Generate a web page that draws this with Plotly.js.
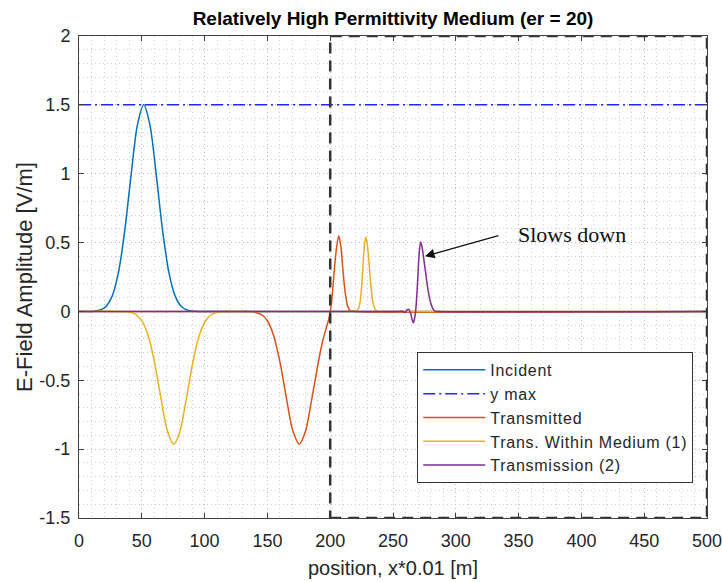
<!DOCTYPE html>
<html>
<head>
<meta charset="utf-8">
<script src="https://cdn.plot.ly/plotly-3.0.1.min.js"></script>
<style>html,body{margin:0;padding:0;background:#fff;}#chart{width:722px;height:582px;}
.legendtext{letter-spacing:0.75px;}</style>
</head>
<body>
<div id="chart"></div>
<script>
// ---- data ----
var incX = [0, 10, 15, 18.5, 21.5, 26.5, 31.5, 36.5, 41.5, 46.5, 51.5, 56.5, 61.5, 66.5, 71.5, 76.5, 81.5, 86.5, 90, 95, 500];
var incY = [0, 0, 0.006, 0.017, 0.036, 0.113, 0.287, 0.592, 0.992, 1.353, 1.5, 1.353, 0.992, 0.592, 0.287, 0.113, 0.036, 0.009, 0.003, 0, 0];

var ymaxX = [0, 500];
var ymaxY = [1.5, 1.5];

var trX = [0, 130, 138, 145, 150, 155, 160, 165, 170, 175.3, 180, 185, 190, 194, 197, 199, 201, 203, 205, 206.8, 208.5, 210, 212, 214, 216, 220, 500];
var trY = [0, 0, -0.003, -0.022, -0.068, -0.176, -0.367, -0.622, -0.858, -0.964, -0.880, -0.653, -0.395, -0.215, -0.115, -0.05, 0.06, 0.27, 0.46, 0.55, 0.47, 0.315, 0.135, 0.035, 0.006, 0, 0];

var twX = [0, 30, 38, 45, 50, 55, 60, 65, 70, 75.4, 80, 85, 90, 95, 100, 105, 110, 116, 125, 215, 221, 222.5, 224, 225, 226, 227, 228.3, 229.5, 231, 232.5, 234, 236, 238, 245, 500];
var twY = [0, 0, -0.003, -0.021, -0.067, -0.173, -0.362, -0.617, -0.855, -0.964, -0.883, -0.659, -0.40, -0.197, -0.079, -0.026, -0.007, -0.001, 0, 0, 0.004, 0.018, 0.08, 0.175, 0.313, 0.453, 0.54, 0.49, 0.34, 0.176, 0.068, 0.012, 0, 0, 0];

var tmX = [0, 255, 257.5, 259.5, 261, 262.5, 264, 265.2, 266.2, 267.2, 268, 269, 270, 271, 272, 273, 274, 275, 276, 277, 278, 279, 280, 281, 282, 283.5, 286, 500];
var tmY = [0, 0, 0.002, -0.008, 0.01, 0.016, -0.012, -0.06, -0.082, -0.05, 0.0, 0.12, 0.29, 0.44, 0.505, 0.475, 0.415, 0.345, 0.28, 0.21, 0.15, 0.10, 0.063, 0.035, 0.015, 0.002, 0, 0];

var xTickVals = [0, 50, 100, 150, 200, 250, 300, 350, 400, 450, 500];
var xTickText = ['0', '50', '100', '150', '200', '250', '300', '350', '400', '450', '500'];
var yTickVals = [-1.5, -1, -0.5, 0, 0.5, 1, 1.5, 2];
var yTickText = ['-1.5', '-1', '-0.5', '0', '0.5', '1', '1.5', '2'];

var seriesNames = ['Incident', 'y max', 'Transmitted', 'Trans. Within Medium (1)', 'Transmission (2)'];

// ---- styling ----
var FONT = 'Liberation Sans, Arial, Helvetica, sans-serif';
var AX = '#404040';
var TXT = '#262626';

function ln(x, y, name, color, dash) {
  return {
    x: x, y: y, name: name, type: 'scatter', mode: 'lines',
    line: {color: color, width: 1.5, dash: dash || 'solid', shape: dash ? 'linear' : 'spline', smoothing: 0.8},
    hoverinfo: 'skip'
  };
}

var traces = [
  ln(incX, incY, seriesNames[0], '#0072BD'),
  ln(ymaxX, ymaxY, seriesNames[1], '#2424ff', '12px,4px,2px,4px'),
  ln(trX, trY, seriesNames[2], '#D95319'),
  ln(twX, twY, seriesNames[3], '#EDB120'),
  ln(tmX, tmY, seriesNames[4], '#7E2F8E')
];

var axisCommon = {
  ticks: 'inside', ticklen: 5, tickwidth: 1, tickcolor: AX,
  showline: true, linecolor: AX, linewidth: 1, mirror: 'ticks',
  showgrid: true, gridcolor: '#bdbdbd', griddash: '1px,3px', gridwidth: 1,
  zeroline: false, ticklabeloverflow: 'allow',
  tickfont: {family: FONT, size: 18, color: TXT}
};

var layout = {
  width: 722, height: 582,
  margin: {l: 79, r: 15, t: 36, b: 64},
  paper_bgcolor: '#ffffff', plot_bgcolor: '#ffffff',
  font: {family: FONT, color: TXT},
  showlegend: true,
  title: {
    text: 'Relatively High Permittivity Medium (er = 20)',
    font: {family: FONT, size: 19, color: '#000000', weight: 'bold'},
    x: 0.5, xref: 'paper', y: 1 - 18 / 582, yref: 'container', yanchor: 'middle'
  },
  xaxis: Object.assign({}, axisCommon, {
    range: [0, 500], tickmode: 'array', tickvals: xTickVals, ticktext: xTickText,
    ticklabelstandoff: 6,
    minor: {dtick: 10, tick0: 0, showgrid: true, gridcolor: '#cfcfcf', griddash: '1px,3px', gridwidth: 1, ticks: ''},
    title: {text: 'position, x*0.01 [m]', font: {family: FONT, size: 20, color: TXT}, standoff: 11}
  }),
  yaxis: Object.assign({}, axisCommon, {
    range: [-1.5, 2], tickmode: 'array', tickvals: yTickVals, ticktext: yTickText,
    ticklabelstandoff: 4,
    minor: {dtick: 0.1, tick0: 0, showgrid: true, gridcolor: '#cfcfcf', griddash: '1px,3px', gridwidth: 1, ticks: ''},
    title: {text: 'E-Field Amplitude [V/m]', font: {family: FONT, size: 22, color: TXT}, standoff: 0}
  }),
  legend: {
    x: 0.5386, y: 0.3445, xanchor: 'left', yanchor: 'top',
    bgcolor: '#ffffff', bordercolor: '#333333', borderwidth: 1,
    font: {family: FONT, size: 16, color: TXT},
    itemwidth: 62, tracegroupgap: 0
  },
  shapes: [{
    type: 'rect', xref: 'x', yref: 'y', x0: 200, x1: 500, y0: -1.5, y1: 2,
    line: {color: '#333333', width: 2.5, dash: '11px,7px'}, layer: 'above', fillcolor: 'rgba(0,0,0,0)'
  }],
  annotations: [
    {
      x: 275.4, y: 0.40, xref: 'x', yref: 'y',
      ax: 335.1, ay: 0.553, axref: 'x', ayref: 'y',
      text: '', showarrow: true, arrowhead: 2, arrowsize: 1.6, arrowwidth: 1.2, arrowcolor: '#111111', standoff: 0, startstandoff: 0
    },
    {
      x: 347.8, y: 0.558, xref: 'x', yref: 'y', xanchor: 'left', yanchor: 'middle',
      text: 'Slows down', showarrow: false,
      font: {family: 'Liberation Serif, Times New Roman, serif', size: 22, color: '#111111'}
    }
  ]
};

Plotly.newPlot('chart', traces, layout, {displayModeBar: false, staticPlot: true});
</script>
</body>
</html>
